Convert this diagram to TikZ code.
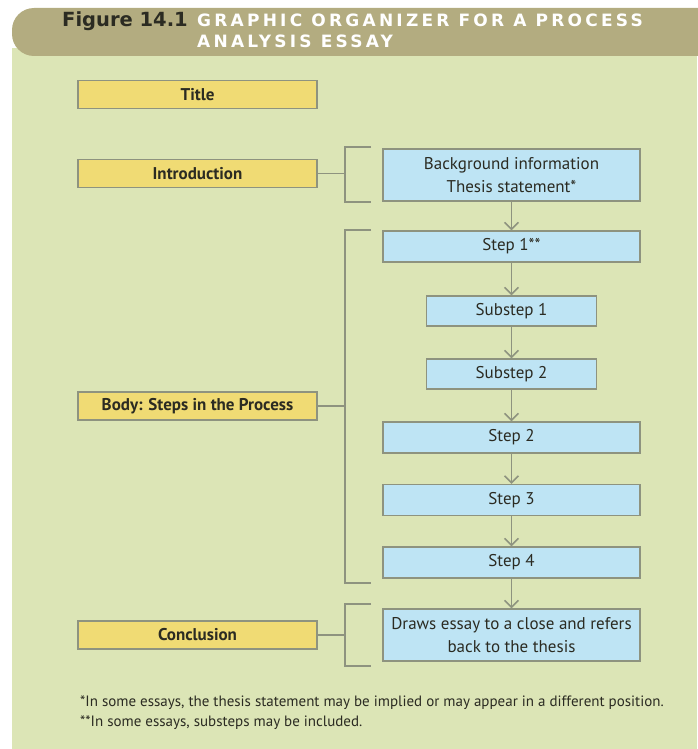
\documentclass[tikz,border=0pt]{standalone}
\usepackage{fontspec}
\setmainfont{PT Sans}
\newfontfamily\headfont{DejaVu Sans}[BoldFont={DejaVu Sans Bold}]
\newfontfamily\capsfont{DejaVu Sans}[BoldFont={DejaVu Sans Bold},BoldFeatures={LetterSpace=19}]
\usetikzlibrary{arrows.meta}

\definecolor{pagegreen}{HTML}{DCE5B6}
\definecolor{bandkhaki}{HTML}{B3AC80}
\definecolor{partyellow}{HTML}{F0DB74}
\definecolor{stepblue}{HTML}{BEE4F4}
\definecolor{rulegray}{HTML}{8E937F}
\definecolor{inkdark}{HTML}{2B2B22}

\begin{document}
\begin{tikzpicture}[
    x=1pt, y=-1pt,
    part/.style={draw=rulegray, line width=1.3pt, fill=partyellow, text=inkdark,
                 minimum width=239pt, minimum height=28pt, inner sep=0pt,
                 font=\bfseries\fontsize{17}{19}\selectfont},
    stepbox/.style={draw=rulegray, line width=1.3pt, fill=stepblue, text=inkdark,
                    minimum width=257pt, minimum height=31pt, inner sep=0pt, align=center,
                    font=\fontsize{17}{23}\selectfont},
    substepbox/.style={stepbox, minimum width=170pt, minimum height=30pt},
    flow/.style={draw=rulegray, line width=1.5pt},
    brace/.style={draw=rulegray, line width=1.8pt},
    note/.style={anchor=base west, inner sep=0pt, text=inkdark,
                 font=\fontsize{15}{17}\selectfont},
]
  \useasboundingbox (0,0) rectangle (697,749);
  % page and heading band
  \fill [pagegreen] (12,48) rectangle (697,749);
  \fill [bandkhaki, rounded corners=22pt] (12,8) rectangle (730,56);
  \node [anchor=base west, inner sep=0pt, text=inkdark, font=\headfont\bfseries\fontsize{19.5}{22}\selectfont]
        (fig) at (62,27) {Figure 14.1};
  \node [anchor=base west, inner sep=0pt, text=white, font=\capsfont\bfseries\fontsize{17}{19}\selectfont]
        (cap1) at (197,26.5) {GRAPHIC ORGANIZER FOR A PROCESS};
  \node [anchor=base west, inner sep=0pt, text=white, font=\capsfont\bfseries\fontsize{17}{19}\selectfont]
        (cap2) at (197,48) {ANALYSIS ESSAY};

  % essay parts
  \node [part] (title) at (197.5, 94.5) {Title};
  \node [part] (intro) at (197.5,173.5) {Introduction};
  \node [part] (body)  at (197.5,406  ) {Body: Steps in the Process};
  \node [part] (end)   at (197.5,635  ) {Conclusion};

  % contents of each part
  \node [stepbox, minimum height=52pt] (bg)  at (511.5,175  ) {Background information\\Thesis statement*};
  \node [stepbox]    (s1)  at (511.5,246.5) {Step 1**}  edge [flow, {Straight Barb[length=7pt,width=14pt]}-] (bg);
  \node [substepbox] (ss1) at (511.5,311  ) {Substep 1} edge [flow, {Straight Barb[length=7pt,width=14pt]}-] (s1);
  \node [substepbox] (ss2) at (511.5,374  ) {Substep 2} edge [flow, {Straight Barb[length=7pt,width=14pt]}-] (ss1);
  \node [stepbox]    (s2)  at (511.5,437.5) {Step 2}    edge [flow, {Straight Barb[length=7pt,width=14pt]}-] (ss2);
  \node [stepbox]    (s3)  at (511.5,500  ) {Step 3}    edge [flow, {Straight Barb[length=7pt,width=14pt]}-] (s2);
  \node [stepbox]    (s4)  at (511.5,562.5) {Step 4}    edge [flow, {Straight Barb[length=7pt,width=14pt]}-] (s3);
  \node [stepbox, minimum height=52pt] (close) at (511.5,635) {Draws essay to a close and refers\\back to the thesis}
                                                          edge [flow, {Straight Barb[length=7pt,width=14pt]}-] (s4);

  % brackets
  \coordinate (ib) at (345,173.5);
  \coordinate (bb) at (345,406);
  \coordinate (cb) at (345,635);
  \draw [brace] (371,147) -- (345,147) -- (345,202) -- (371,202);
  \draw [brace] (371,230) -- (345,230) -- (345,583) -- (371,583);
  \draw [brace] (371,604) -- (345,604) -- (345,666) -- (371,666);
  \draw [brace] (intro) -- (ib);
  \draw [brace] (body)  -- (bb);
  \draw [brace] (end)   -- (cb);

  % footnotes
  \node [note] (n1) at (80,706) {*In some essays, the thesis statement may be implied or may appear in a different position.};
  \node [note] (n2) at (80,726) {**In some essays, substeps may be included.};
\end{tikzpicture}
\end{document}
